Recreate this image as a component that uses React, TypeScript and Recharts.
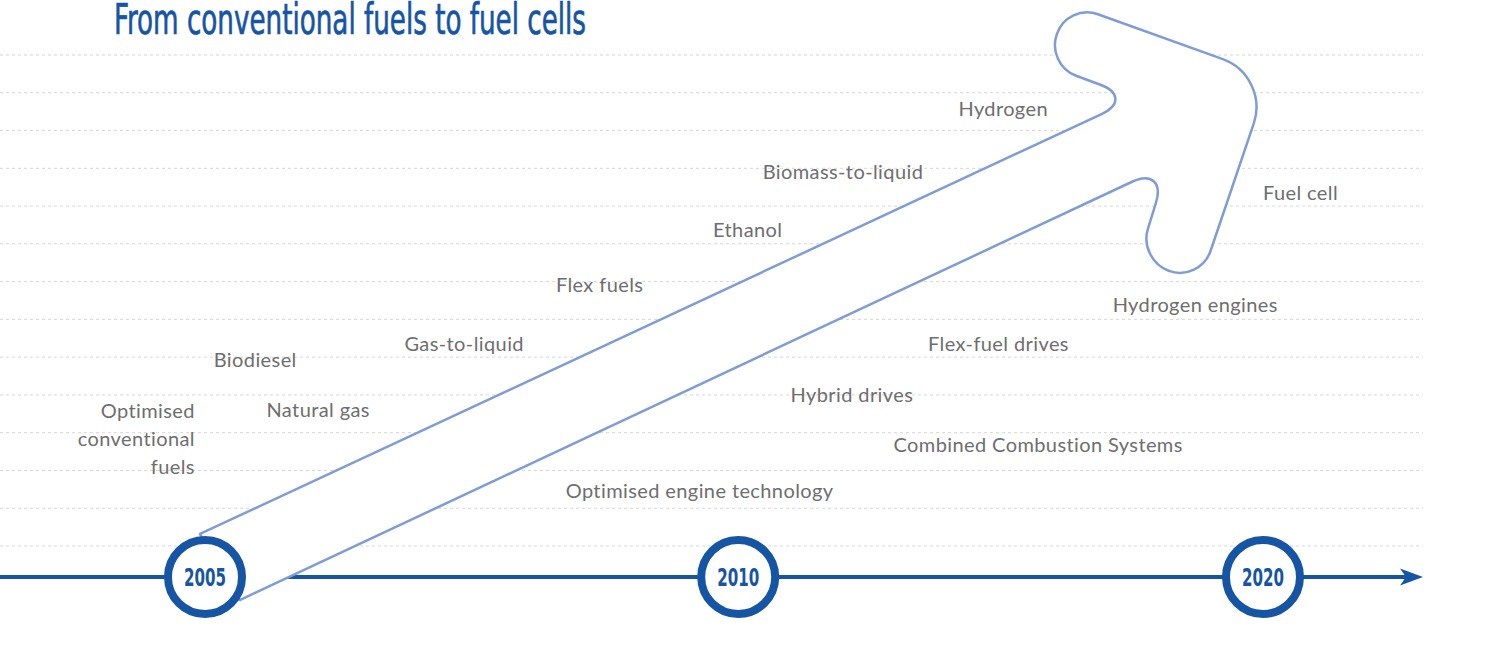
import { ScatterChart, Scatter, XAxis, YAxis, CartesianGrid } from 'recharts';

const W = 1494;
const H = 653;
const BLUE = '#1655a3';
const ARROW = '#7f9cd5';
const GREY = '#6e6e6e';
const CONDENSED = "'Liberation Sans Narrow', 'DejaVu Sans Condensed', 'Roboto', sans-serif";
const LABEL_FONT = "Lato, 'Open Sans', sans-serif";

// x: position on the timeline (2005 = 0, 2010 ≈ 1, 2020 = 2); y: row of the dashed grid
const xDomain = [-0.3875, 2.3025];
const yDomain = [-2.833, 14.456];
const gridRows = [0, 1, 2, 3, 4, 5, 6, 7, 8, 9, 10, 11, 12, 13];

const milestoneYears = ['2005', '2010', '2020'];
const milestonePos = [0, 1.008, 2];
const timelineY = -0.82;
const timelineX = [-0.3875, 2.3025];

const fuelNames = ['Optimised\nconventional\nfuels', 'Natural gas', 'Biodiesel', 'Gas-to-liquid', 'Flex fuels', 'Ethanol', 'Biomass-to-liquid', 'Hydrogen'];
const fuelX = [-0.019, 0.214, 0.095, 0.49, 0.746, 1.026, 1.206, 1.509];
const fuelY = [2.86, 3.63, 4.95, 5.37, 6.94, 8.39, 9.93, 11.6];

const driveNames = ['Optimised engine technology', 'Combined Combustion Systems', 'Hybrid drives', 'Flex-fuel drives', 'Hydrogen engines', 'Fuel cell'];
const driveX = [0.935, 1.575, 1.223, 1.5, 1.872, 2.071];
const driveY = [1.48, 2.7, 4.02, 5.37, 6.41, 9.37];

// outline of the big arrow (corners before rounding)
const arrowX = [-0.0095, 1.76, 1.59, 1.631, 2.013, 1.881, 1.764, 1.82, 0.066];
const arrowY = [0.318, 11.861, 12.746, 14.366, 12.444, 6.99, 7.572, 10.087, -1.43];
const cornerRound = [0, 38, 32, 32, 50, 33, 33, 40, 0];

const milestones = milestoneYears.map((year, i) => ({ year, x: milestonePos[i], y: timelineY }));
const timeline = timelineX.map((x) => ({ x, y: timelineY }));
const labels = [
    ...fuelNames.map((name, i) => ({ name, x: fuelX[i], y: fuelY[i] })),
    ...driveNames.map((name, i) => ({ name, x: driveX[i], y: driveY[i] })),
];
const arrowOutline = arrowX.map((x, i) => ({ x, y: arrowY[i] }));

type Pt = { x: number; y: number };

function toward(p: Pt, q: Pt, d: number): Pt {
    const len = Math.hypot(q.x - p.x, q.y - p.y) || 1;
    return { x: p.x + ((q.x - p.x) * d) / len, y: p.y + ((q.y - p.y) * d) / len };
}

function roundedPath(pts: Pt[], radii: number[]) {
    const n = pts.length;
    const k = 0.55;
    let d = '';
    pts.forEach((p, i) => {
        const r = radii[i];
        const cmd = i === 0 ? 'M' : 'L';
        if (!r) {
            d += `${cmd}${p.x},${p.y}`;
            return;
        }
        const a = toward(p, pts[(i - 1 + n) % n], r);
        const b = toward(p, pts[(i + 1) % n], r);
        const c1 = { x: a.x + (p.x - a.x) * k, y: a.y + (p.y - a.y) * k };
        const c2 = { x: b.x + (p.x - b.x) * k, y: b.y + (p.y - b.y) * k };
        d += `${cmd}${a.x},${a.y}C${c1.x},${c1.y} ${c2.x},${c2.y} ${b.x},${b.y}`;
    });
    return d + 'Z';
}

const rightAligned = new Set([fuelNames[0]]);

function LabelShape(props: any) {
    const { cx, cy, payload } = props;
    const lines: string[] = payload.name.split('\n');
    const anchor = rightAligned.has(payload.name) ? 'end' : 'middle';
    const lh = 28;
    return (
        <text x={cx} y={cy} textAnchor={anchor} fill={GREY} fontSize={20} letterSpacing={0.4} fontFamily={LABEL_FONT} dominantBaseline="central">
            {lines.map((l, i) => (
                <tspan key={i} x={cx} y={cy + (i - (lines.length - 1) / 2) * lh}>{l}</tspan>
            ))}
        </text>
    );
}

function MilestoneShape(props: any) {
    const { cx, cy, payload } = props;
    return (
        <g>
            <circle cx={cx} cy={cy} r={37} fill="#fff" stroke={BLUE} strokeWidth={8} />
            <text x={cx} y={cy + 9} textAnchor="middle" fill={BLUE} fontSize={25} fontWeight={700} fontFamily={CONDENSED} textLength={42} lengthAdjust="spacingAndGlyphs">{payload.year}</text>
        </g>
    );
}

export default function App() {
    return (
        <div style={{ position: 'absolute', left: 0, top: 0, width: W, height: H, background: '#fff' }}>
            <ScatterChart width={W} height={H} margin={{ top: 0, right: 71, bottom: 0, left: 0 }}>
                <CartesianGrid vertical={false} syncWithTicks stroke="#d6d6d6" strokeDasharray="3 3" />
                <XAxis type="number" dataKey="x" domain={xDomain} allowDataOverflow hide />
                <YAxis type="number" dataKey="y" domain={yDomain} ticks={gridRows} allowDataOverflow hide />
                <Scatter
                    data={timeline}
                    dataKey="y"
                    isAnimationActive={false}
                    line={(p: any) => (
                        <path d={`M${p.points[0].x},${p.points[0].y}L${p.points[1].x - 12},${p.points[1].y}`} stroke={BLUE} strokeWidth={4} fill="none" />
                    )}
                    shape={(p: any) =>
                        p.index === timeline.length - 1 ? (
                            <path d={`M${p.cx},${p.cy}L${p.cx - 23},${p.cy - 8.5}L${p.cx - 17},${p.cy}L${p.cx - 23},${p.cy + 8.5}Z`} fill={BLUE} />
                        ) : (
                            <g />
                        )
                    }
                />
                <Scatter
                    data={arrowOutline}
                    dataKey="y"
                    isAnimationActive={false}
                    line={(p: any) => <path d={roundedPath(p.points, cornerRound)} fill="#fff" stroke={ARROW} strokeWidth={2.5} strokeLinejoin="round" />}
                    shape={() => <g />}
                />
                <Scatter data={milestones} dataKey="y" isAnimationActive={false} shape={MilestoneShape} />
                <Scatter data={labels} dataKey="y" isAnimationActive={false} shape={LabelShape} />
            </ScatterChart>
            <div style={{ position: 'absolute', left: 0, top: 0, width: 700, height: 48, pointerEvents: 'none' }}>
                <svg width={700} height={48} style={{ display: 'block', overflow: 'visible' }}>
                    <text x={114} y={34} fill={BLUE} stroke={BLUE} strokeWidth={0.7} fontSize={42} fontFamily={CONDENSED} textLength={472} lengthAdjust="spacingAndGlyphs">From conventional fuels to fuel cells</text>
                </svg>
            </div>
        </div>
    );
}
